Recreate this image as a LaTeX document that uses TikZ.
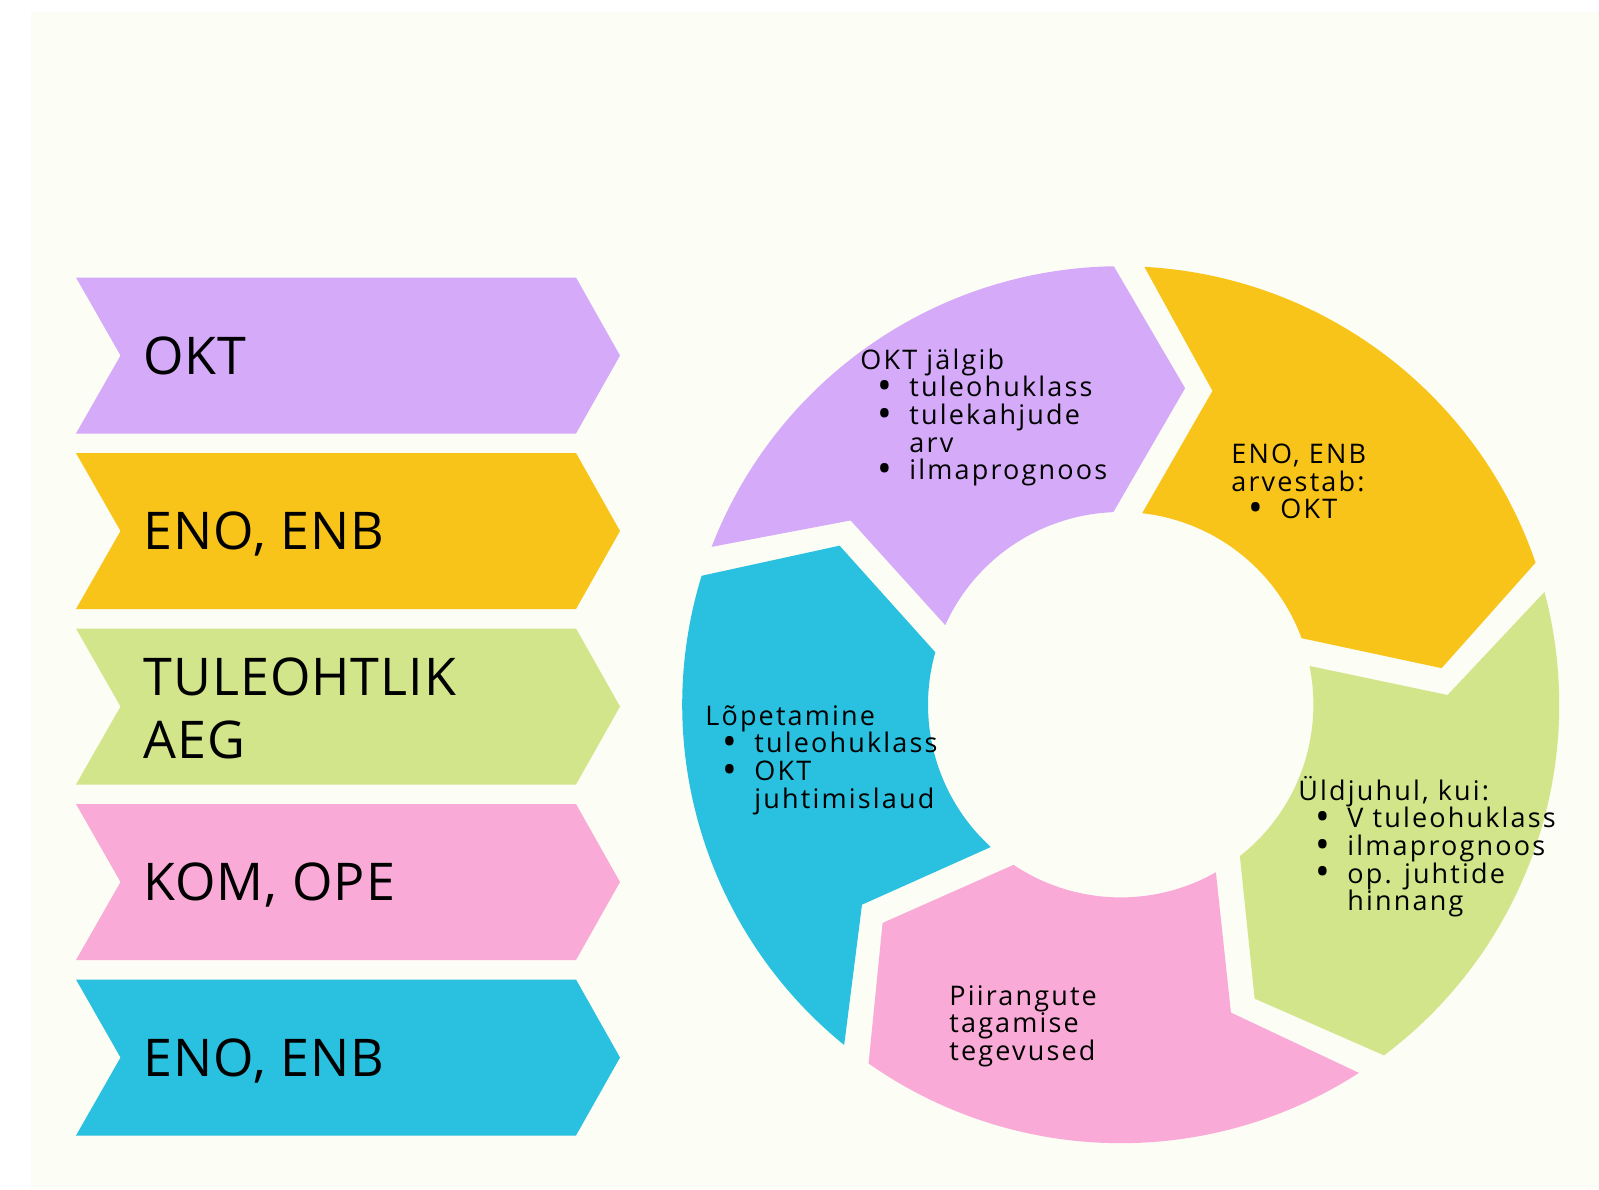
\documentclass[tikz,border=0pt]{standalone}
\usepackage{fontspec}
\setmainfont{Open Sans}
\newfontfamily\tagfont[LetterSpace=2]{Open Sans}
\newfontfamily\ringfont[LetterSpace=8]{Open Sans}
\usetikzlibrary{positioning, calc}

\newcommand{\ringout}{219.25pt}
\newcommand{\ringin}{96.35pt}
\newcommand{\ringtip}{161.5pt}
\newcommand{\ringnotch}{163.5pt}

% chevron band: colour, top edge (px from the top)
\newcommand{\chevron}[2]{%
  \fill[#1] (76,-#2) -- (576,-#2) -- (620,{-#2-78}) -- (576,{-#2-156})
    -- (76,{-#2-156}) -- (120.5,{-#2-78}) -- cycle;}

% ring piece: colour, back angle, front angle
\newcommand{\ringpart}[3]{%
  \fill[#1] (#2-2.1:\ringout)
    arc[start angle=#2-2.1, end angle=#3+1.9, radius=\ringout]
    -- (#3-10.5:\ringtip) -- (#3+3.2:\ringin)
    arc[start angle=#3+3.2, end angle=#2-5.4, radius=\ringin]
    -- (#2-15.3:\ringnotch) -- cycle;}

% left-aligned lines, baseline on the first line
\newcommand{\lines}[1]{\vtop{\let\\\cr\halign{##\hfil\cr#1\crcr}}}
\newcommand{\bul}{\makebox[24.5pt][l]{\hspace{8.3pt}\raisebox{-0.1em}{\scalebox{1.45}{\textbullet}}}}
\newcommand{\cont}{\hspace*{24.5pt}}

\begin{document}
\begin{tikzpicture}[x=0.5pt, y=0.5pt,
    tag/.style={anchor=base west, inner sep=0pt,
                font=\tagfont\fontsize{26pt}{31.5pt}\selectfont},
    note/.style={anchor=base west, inner sep=0pt,
                 font=\ringfont\fontsize{13.5pt}{13.85pt}\selectfont},
]

% Color definitions
\definecolor{paperC}{RGB}{252,253,245}
\definecolor{oktC}{RGB}{212,170,249}
\definecolor{enoC}{RGB}{248,196,26}
\definecolor{aegC}{RGB}{211,229,138}
\definecolor{komC}{RGB}{249,170,214}
\definecolor{endC}{RGB}{41,193,223}

\useasboundingbox (0,0) rectangle (1599,-1189);
\fill[paperC] (31,-12) rectangle (1599,-1189);

% Chevrons (left column)
\chevron{oktC}{277.5}
\chevron{enoC}{453}
\chevron{aegC}{628.5}
\chevron{komC}{804}
\chevron{endC}{979.5}

\node[tag] (lokt) at (143,-374) {OKT};
\node[tag] (leno) at (143,-549.5) {ENO, ENB};
\node[tag] (laeg) at (143,-695.5) {\lines{TULEOHTLIK\\AEG}};
\node[tag] (lkom) at (143,-900.5) {KOM, OPE};
\node[tag] (lend) at (143,-1076) {ENO, ENB};

% Ring (clockwise from the top left)
\begin{scope}[shift={(1120.7,-704.7)}]
\ringpart{oktC}{161}{89}
\ringpart{enoC}{89}{17}
\ringpart{aegC}{17}{-55}
\ringpart{komC}{-55}{-127}
\ringpart{endC}{-127}{-199}
\end{scope}

% Texts in the ring
\node[note] (tokt) at (860,-369)
  {\lines{OKT jälgib\\ \bul tuleohuklass\\ \bul tulekahjude\\ \cont arv\\ \bul ilmaprognoos}};
\node[note] (teno) at (1231,-463.5)
  {\lines{ENO, ENB\\ arvestab:\\ \bul OKT}};
\node[note] (taeg) at (1298,-800)
  {\lines{Üldjuhul, kui:\\ \bul V tuleohuklass\\ \bul ilmaprognoos\\ \bul op. juhtide\\ \cont hinnang}};
\node[note] (tkom) at (949,-1005)
  {\lines{Piirangute\\ tagamise\\ tegevused}};
\node[note] (tend) at (705,-725)
  {\lines{Lõpetamine\\ \bul tuleohuklass\\ \bul OKT\\ \cont juhtimislaud}};

\end{tikzpicture}
\end{document}
